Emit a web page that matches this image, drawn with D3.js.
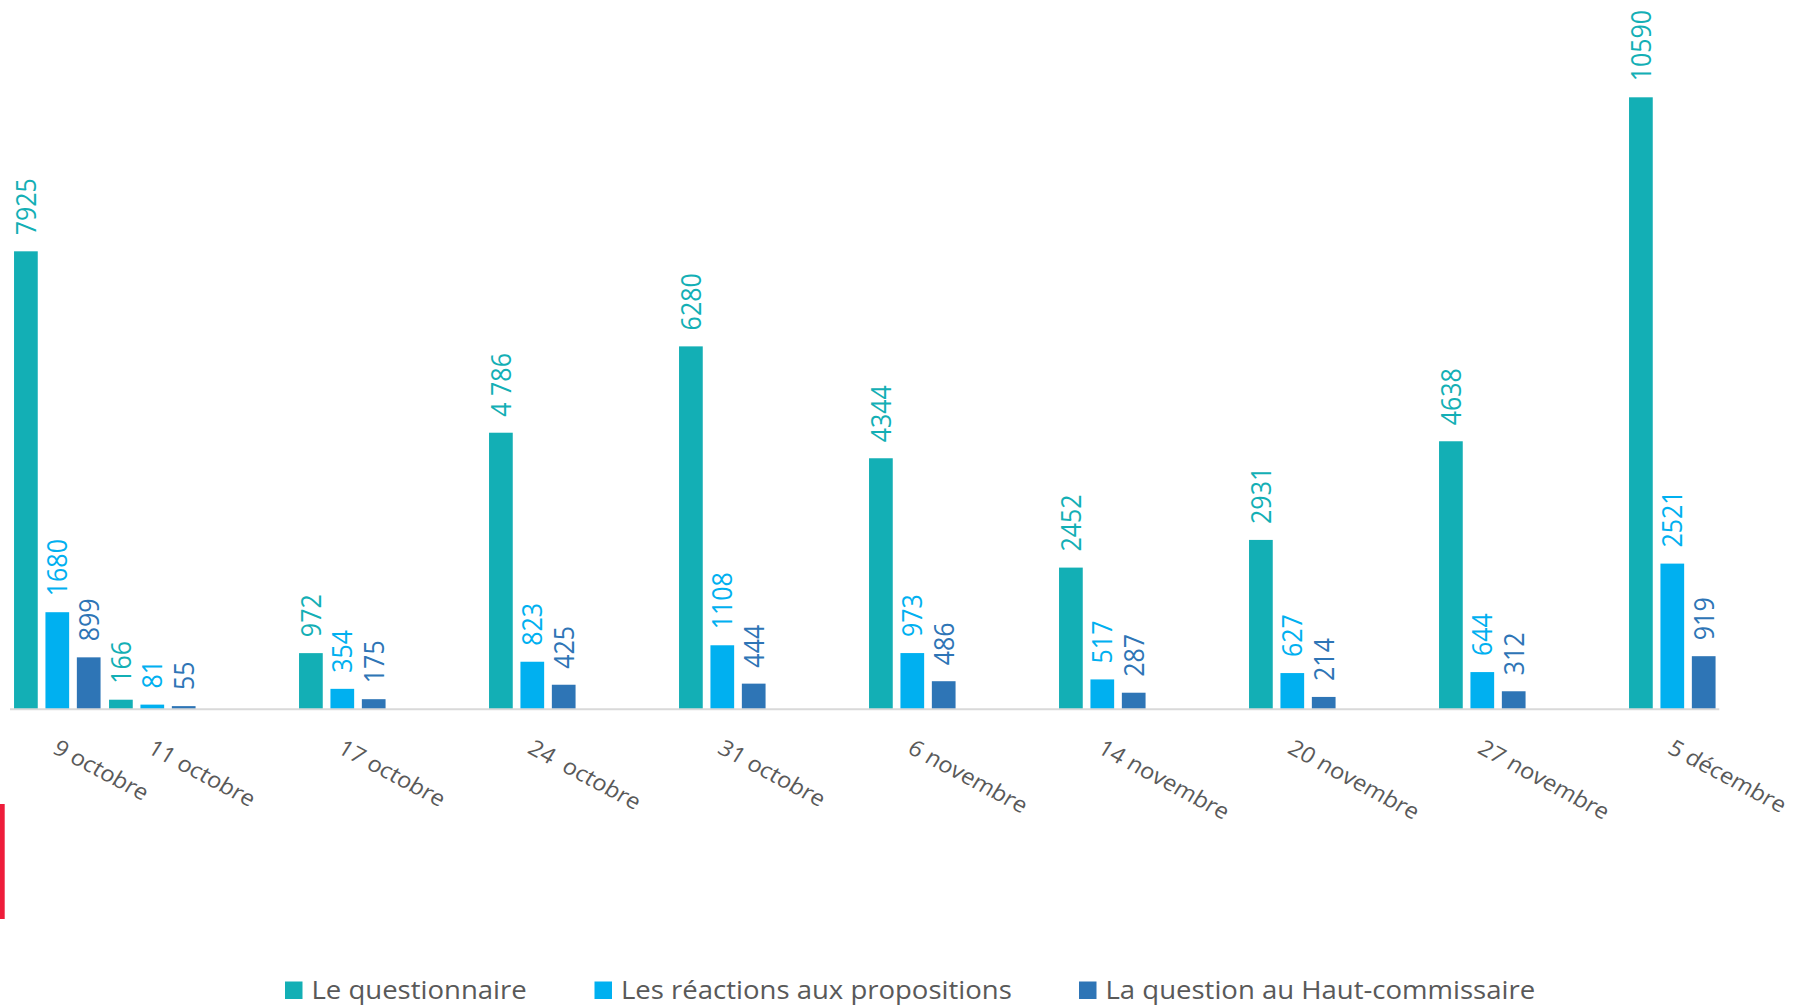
<!DOCTYPE html>
<html>
<head>
<meta charset="utf-8">
<script src="https://cdn.jsdelivr.net/npm/d3@7"></script>
<style>
  body { margin: 0; background: #fff; }
  svg { display: block; font-family: "Open Sans", sans-serif; }
</style>
</head>
<body>
<div id="chart"></div>
<script>
// dates of the consultation (the Excel source leaves an empty slot before each date from 17 octobre on)
var categories = ['9 octobre', '11 octobre', '17 octobre', '24  octobre', '31 octobre',
                  '6 novembre', '14 novembre', '20 novembre', '27 novembre', '5 décembre'];

var seriesNames = ['Le questionnaire', 'Les réactions aux propositions', 'La question au Haut-commissaire'];

var questionnaire = [7925, 166, 972, 4786, 6280, 4344, 2452, 2931, 4638, 10590];
var reactions     = [1680, 81, 354, 823, 1108, 973, 517, 627, 644, 2521];
var hautCommiss   = [899, 55, 175, 425, 444, 486, 287, 214, 312, 919];

// label text as printed (one value has a thousands space)
var questionnaireLabels = ['7925', '166', '972', '4 786', '6280', '4344', '2452', '2931', '4638', '10590'];

var yMax = 12000;

var colors = ['#13afb5', '#00b0f0', '#2e75b6'];

var W = 1795, H = 1006;
var SX = 1.12;      // the picture is stretched sideways, text follows it
var SX_AXIS = 1.08;

var svg = d3.select('#chart').append('svg')
    .attr('width', W)
    .attr('height', H);

svg.append('rect').attr('width', W).attr('height', H).attr('fill', '#fff');

// slots: two first dates side by side, then one empty slot before each date
var slots = [];
categories.forEach((c, i) => {
    if (i >= 2) slots.push(null);
    slots.push(i);
});

var x = d3.scaleBand()
    .domain(d3.range(slots.length))
    .range([9.8, 1719.8])
    .paddingInner(0)
    .paddingOuter(0);

var xInner = d3.scaleBand()
    .domain([0, 1, 2])
    .range([0, x.bandwidth()])
    .paddingInner(0.245)
    .paddingOuter(0.135);

var y = d3.scaleLinear()
    .domain([0, yMax])
    .range([709.3, 709.3 - yMax * 0.05779]);

var series = [questionnaire, reactions, hautCommiss];
var labels = [questionnaireLabels, reactions.map(String), hautCommiss.map(String)];

var rows = [];
categories.forEach((c, i) => {
    var slot = slots.indexOf(i);
    series.forEach((s, k) => {
        rows.push({slot: slot, k: k, value: s[i], label: labels[k][i]});
    });
});

// bars
svg.append('g').selectAll('rect').data(rows).enter().append('rect')
    .attr('x', d => x(d.slot) + xInner(d.k))
    .attr('y', d => y(d.value))
    .attr('width', xInner.bandwidth())
    .attr('height', d => y(0) - y(d.value))
    .attr('fill', d => colors[d.k]);

// value labels, vertical
svg.append('g').selectAll('text').data(rows).enter().append('text')
    .attr('transform', d => 'translate(' + (x(d.slot) + xInner(d.k) + xInner.bandwidth() / 2) + ',' + (y(d.value) - 16) + ') scale(' + SX + ',1) rotate(-90)')
    .attr('dy', '0.36em')
    .attr('text-anchor', 'start')
    .attr('font-size', 25)
    .attr('fill', d => colors[d.k])
    .text(d => d.label);

// axis
var xAxis = d3.axisBottom(x)
    .tickValues(slots.map((s, i) => s === null ? null : i).filter(v => v !== null))
    .tickFormat(i => categories[slots[i]])
    .tickSize(0)
    .tickSizeOuter(0);

var gAxis = svg.append('g')
    .attr('transform', 'translate(0,' + y(0) + ')')
    .call(xAxis);

gAxis.select('.domain')
    .attr('stroke', '#d9d9d9')
    .attr('stroke-width', 2)
    .attr('d', 'M10,0H1719.3');

gAxis.selectAll('.tick text')
    .attr('y', null)
    .attr('dy', null)
    .attr('transform', 'translate(4,27) scale(' + SX_AXIS + ',1) rotate(30)')
    .attr('text-anchor', 'start')
    .attr('dominant-baseline', 'hanging')
    .attr('font-family', '"Open Sans", sans-serif')
    .attr('font-size', 22)
    .attr('fill', '#595959')
    .style('white-space', 'pre');

// legend
var legendX = [285, 594.5, 1079];
var legend = svg.append('g').selectAll('g').data(seriesNames).enter().append('g')
    .attr('transform', (d, i) => 'translate(' + legendX[i] + ',981.5)');

legend.append('rect')
    .attr('width', 17.5)
    .attr('height', 17.5)
    .attr('fill', (d, i) => colors[i]);

legend.append('text')
    .attr('transform', 'translate(26.5,17.5) scale(1.08,1)')
    .attr('font-size', 25.5)
    .attr('fill', '#595959')
    .text(d => d);

// red edge of a shape cut by the frame, bottom left
svg.append('rect')
    .attr('x', 0).attr('y', 804)
    .attr('width', 4.7).attr('height', 115)
    .attr('fill', '#ee1c3a');
</script>
</body>
</html>
